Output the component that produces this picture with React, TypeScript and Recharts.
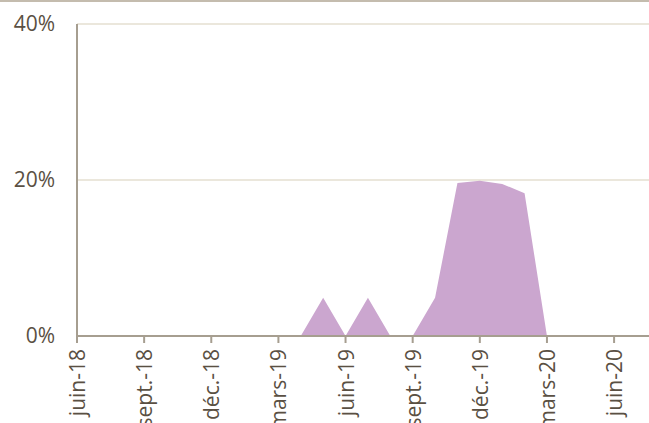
import React from "react";
import { AreaChart, Area, XAxis, YAxis, CartesianGrid } from "recharts";

const months = [
  "juin-18", "juil.-18", "août-18", "sept.-18", "oct.-18", "nov.-18", "déc.-18",
  "janv.-19", "févr.-19", "mars-19", "avr.-19", "mai-19", "juin-19", "juil.-19",
  "août-19", "sept.-19", "oct.-19", "nov.-19", "déc.-19", "janv.-20", "févr.-20",
  "mars-20", "avr.-20", "mai-20", "juin-20", "juil.-20",
];
const shares = [
  0, 0, 0, 0, 0, 0, 0, 0, 0, 0, 0, 4.9, 0, 4.9, 0, 0, 4.9, 19.6, 19.9, 19.5, 18.3, 0, 0, 0, 0, 0,
];
const xTicks = [0, 3, 6, 9, 12, 15, 18, 21, 24];
const yTicks = [0, 20, 40];

const data = months.map((m, i) => ({ i, month: m, value: shares[i] }));

const TEXT = "#5a5043";
const AXIS = "#a69e90";
const FONT = "'Open Sans', sans-serif";

const XTick = (props: any) => {
  const { x, y, payload } = props;
  return (
    <text
      x={x}
      y={y}
      transform={`rotate(-90, ${x}, ${y})`}
      textAnchor="end"
      dominantBaseline="central"
      fill={TEXT}
      fontSize={21}
      fontFamily={FONT}
    >
      {months[payload.value]}
    </text>
  );
};

export default function App() {
  return (
    <div style={{ position: "relative", width: 649, height: 423, background: "#fff" }}>
      <style>{`body{margin:0}`}</style>
      <div style={{ position: "absolute", left: 0, top: 0, width: 649, height: 2, background: "#c4bcae" }} />
      <AreaChart
        width={649}
        height={423}
        data={data}
        margin={{ top: 24, right: 0, bottom: 0, left: 0 }}
      >
        <CartesianGrid vertical={false} stroke="#ebe7dc" strokeWidth={2} />
        <XAxis
          type="number"
          dataKey="i"
          domain={[0, 25.56]}
          ticks={xTicks}
          interval={0}
          height={87}
          stroke={AXIS}
          strokeWidth={2}
          tickSize={7}
          tickMargin={6}
          tick={<XTick />}
          allowDataOverflow
        />
        <YAxis
          type="number"
          domain={[0, 40]}
          ticks={yTicks}
          width={77}
          stroke={AXIS}
          strokeWidth={2}
          tickLine={false}
          tickSize={0}
          tickMargin={22}
          tickFormatter={(v: number) => `${v}%`}
          tick={{ fill: TEXT, fontSize: 21, fontFamily: FONT }}
        />
        <Area
          type="linear"
          dataKey="value"
          stroke="none"
          fill="#cba6cf"
          fillOpacity={1}
          isAnimationActive={false}
        />
      </AreaChart>
    </div>
  );
}
